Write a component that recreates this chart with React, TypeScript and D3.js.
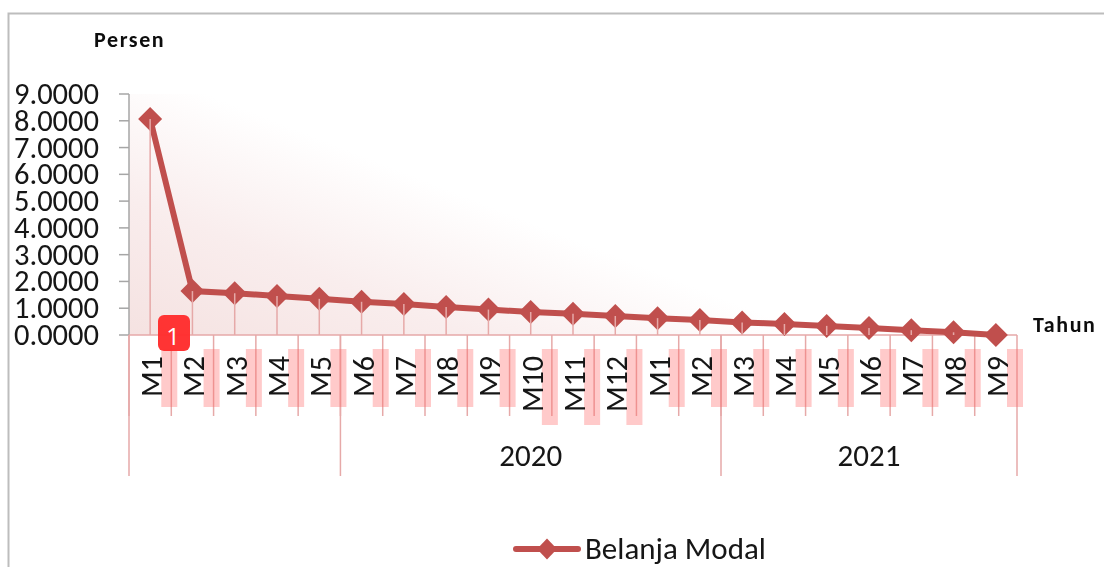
import React from "react";
import * as d3 from "d3";

const months = ["M1","M2","M3","M4","M5","M6","M7","M8","M9","M10","M11","M12","M1","M2","M3","M4","M5","M6","M7","M8","M9"];
const values = [8.07,1.64,1.56,1.46,1.35,1.24,1.16,1.05,0.95,0.86,0.79,0.71,0.63,0.56,0.47,0.41,0.34,0.26,0.18,0.1,0.0];
const yTicks = [0,1,2,3,4,5,6,7,8,9];
const groups = [
  { label: "", start: 0, end: 5 },
  { label: "2020", start: 5, end: 14 },
  { label: "2021", start: 14, end: 21 },
];
const seriesName = "Belanja Modal";

const RED = "#c0504d";
const PINK = "#e6a9a8";
const INK = "#141414";
const FONT = "Carlito, 'Open Sans', 'Noto Sans', sans-serif";

export default function App() {
  const x = d3.scaleBand<number>().domain(d3.range(months.length)).range([129, 1017]);
  const y = d3.scaleLinear().domain([0, 9]).range([335, 94]);
  const cx = (i: number) => (x(i) as number) + x.bandwidth() / 2;
  const edge = (i: number) => 129 + i * x.step();
  const line = d3.line<number>().x((_, i) => cx(i)).y((d) => y(d));
  const diamond = (rx: number, ry: number = rx) => `M0,${-ry}L${rx},0L0,${ry}L${-rx},0Z`;
  const fmt = d3.format(".4f");
  return (
    <svg
      width={1104}
      height={567}
      style={{ position: "absolute", left: 0, top: 0, background: "#fff" }}
      fontFamily={FONT}
    >
      <defs>
        <linearGradient id="plotBg" gradientUnits="userSpaceOnUse" x1={129} y1={335} x2={222} y2={100}>
          <stop offset="0" stopColor="#f5e2e1" />
          <stop offset="0.5" stopColor="#f9eded" />
          <stop offset="1" stopColor="#ffffff" />
        </linearGradient>
        <filter id="soft" x="-5%" y="-5%" width="110%" height="110%">
          <feGaussianBlur stdDeviation="0.55" />
        </filter>
      </defs>
      <g filter="url(#soft)">
        <path d="M8.5,567V13.5H1104" fill="none" stroke="#bdbdbd" strokeWidth={2} />
        <rect x={129} y={94} width={888} height={241} fill="url(#plotBg)" />

        {/* value axis */}
        <line x1={129} x2={129} y1={94} y2={335} stroke="#a6a6a6" strokeWidth={1.5} />
        {yTicks.map((t) => (
          <g key={t}>
            <line x1={119} x2={129} y1={y(t)} y2={y(t)} stroke="#a6a6a6" strokeWidth={1.5} />
            <text x={99} y={y(t) + 10} textAnchor="end" fontSize={30.5} fill={INK}>
              {fmt(t)}
            </text>
          </g>
        ))}

        {/* category axis */}
        <line x1={129} x2={1017} y1={335} y2={335} stroke={PINK} strokeWidth={1.5} />
        {months.map((_, i) => (
          <line key={`t${i}`} x1={edge(i)} x2={edge(i)} y1={335} y2={416} stroke={PINK} strokeWidth={1.5} />
        ))}
        {groups.map((g) => (
          <line key={`g${g.start}`} x1={edge(g.start)} x2={edge(g.start)} y1={335} y2={476} stroke={PINK} strokeWidth={1.5} />
        ))}
        <line x1={1017} x2={1017} y1={335} y2={476} stroke={PINK} strokeWidth={1.5} />

        {/* label highlight bands */}
        {months.map((m, i) => (
          <rect
            key={`h${i}`}
            x={edge(i + 1) - 10}
            y={349}
            width={16}
            height={m.length > 2 ? 76 : 58}
            fill="#ff6666"
            opacity={0.35}
          />
        ))}

        {months.map((m, i) => (
          <text
            key={`m${i}`}
            transform={`translate(${cx(i) + 12},${m.length > 2 ? 412 : 397}) rotate(-90)`}
            fontSize={30}
            fill={INK}
          >
            {m}
          </text>
        ))}
        {groups.map((g) => (
          <text
            key={`l${g.start}`}
            x={(edge(g.start) + edge(g.end)) / 2}
            y={466}
            textAnchor="middle"
            fontSize={31}
            fill={INK}
          >
            {g.label}
          </text>
        ))}

        {/* series */}
        <path d={line(values) as string} fill="none" stroke={RED} strokeWidth={6} />
        {values.map((v, i) => (
          <path key={`d${i}`} d={diamond(12)} transform={`translate(${cx(i)},${y(v)})`} fill={RED} />
        ))}
        {values.map((v, i) => (
          <line key={`v${i}`} x1={cx(i)} x2={cx(i)} y1={y(v)} y2={335} stroke={PINK} strokeWidth={1.5} />
        ))}

        <text x={94} y={47} fontSize={22} fontWeight={700} letterSpacing={1.6} fill="#111">Persen</text>
        <text x={1033} y={332} fontSize={22} fontWeight={700} letterSpacing={1.6} fill="#111">Tahun</text>

        {/* legend */}
        <line x1={516} x2={578} y1={549} y2={549} stroke={RED} strokeWidth={6} strokeLinecap="round" />
        <path d={diamond(10, 10.5)} transform="translate(547,549)" fill={RED} />
        <text x={585} y={559} fontSize={31} fill={INK}>{seriesName}</text>
      </g>

      {/* annotation badge */}
      <rect x={158} y={315} width={32} height={36} rx={6} fill="#ff2d2d" opacity={0.97} />
      <text x={173} y={345} textAnchor="middle" fontSize={24} fill="#fff" fontFamily="'Open Sans', sans-serif">1</text>
    </svg>
  );
}
